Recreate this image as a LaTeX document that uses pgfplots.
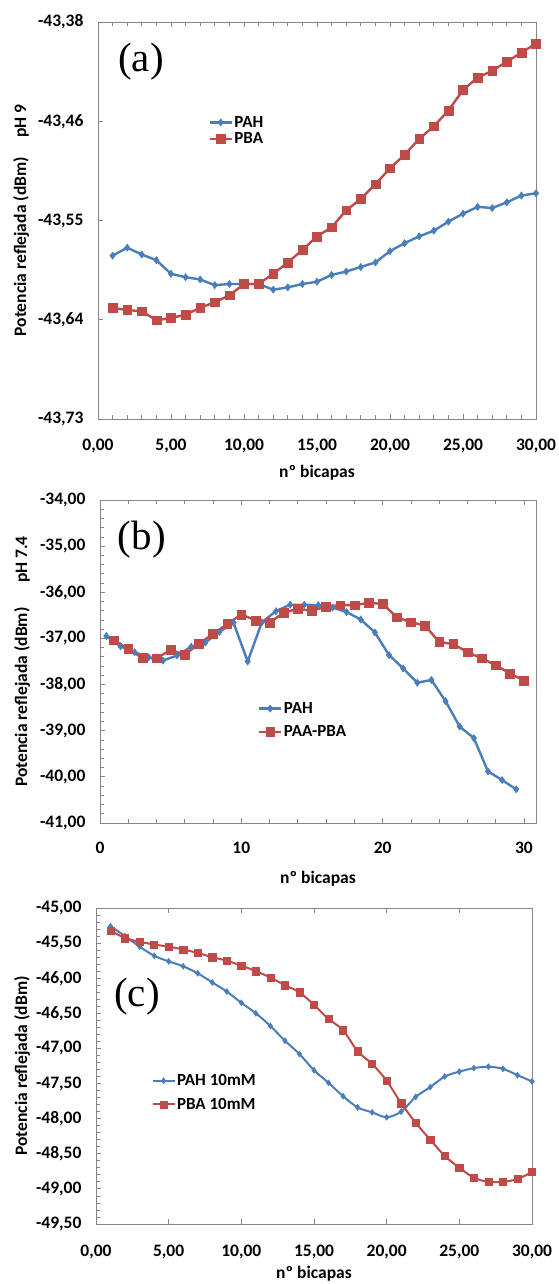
\documentclass[border=0pt]{standalone}
\usepackage{fontspec}
\setmainfont{Carlito}
\newfontfamily\seriffont{Liberation Serif}
\usepackage{pgfplots}
\pgfplotsset{compat=1.18}
\definecolor{pblue}{HTML}{4A7EBB}
\definecolor{pred}{HTML}{BE4B48}
\definecolor{axgray}{HTML}{868686}
\pgfplotsset{
  panel/.style={
    scale only axis,
    anchor=south west,
    axis line style={axgray, line width=0.8pt},
    tick style={axgray, line width=0.8pt},
    tick align=inside,
    xtick pos=both, ytick pos=left,
    major tick length=5pt, minor tick length=4pt,
    font=\bfseries\fontsize{17.5}{20}\selectfont,
    tick label style={font=\bfseries\fontsize{17.5}{20}\selectfont},
    clip=false,
    x tick label style={yshift=-17pt},
    y tick label style={xshift=-11pt},
    legend style={draw=none, fill=none, anchor=north west,
      font=\bfseries\fontsize{17}{20}\selectfont,
      nodes={inner sep=1.5pt}},
    legend cell align=left,
    legend image code/.code={\draw[mark repeat=2,mark phase=2,##1] plot coordinates {(0pt,0pt) (11pt,0pt) (22pt,0pt)};},
  },
  pah/.style={color=pblue, line width=2.4pt, mark=diamond*, mark size=3.6pt, mark options={solid, fill=pblue, line width=0.5pt}},
  pba/.style={color=pred, line width=2.4pt, mark=square*, mark size=4.4pt, mark options={solid, fill=pred, line width=0.5pt}},
}
\pgfplotstableread{
x y
1 -43.581
2 -43.574
3 -43.580
4 -43.585
5 -43.597
6 -43.600
7 -43.602
8 -43.607
9 -43.606
10 -43.606
11 -43.606
12 -43.611
13 -43.609
14 -43.606
15 -43.604
16 -43.598
17 -43.595
18 -43.591
19 -43.587
20 -43.577
21 -43.570
22 -43.564
23 -43.559
24 -43.551
25 -43.544
26 -43.538
27 -43.539
28 -43.534
29 -43.528
30 -43.526
}\pahA
\pgfplotstableread{
x y
1 -43.627
2 -43.629
3 -43.630
4 -43.638
5 -43.636
6 -43.633
7 -43.627
8 -43.622
9 -43.616
10 -43.606
11 -43.606
12 -43.597
13 -43.587
14 -43.576
15 -43.564
16 -43.556
17 -43.541
18 -43.531
19 -43.518
20 -43.504
21 -43.492
22 -43.478
23 -43.467
24 -43.453
25 -43.435
26 -43.424
27 -43.418
28 -43.410
29 -43.402
30 -43.394
}\pbaA
\pgfplotstableread{
x y
0.45 -36.95
1.45 -37.17
2.45 -37.30
3.45 -37.41
4.45 -37.48
5.45 -37.37
6.45 -37.18
7.45 -37.09
8.45 -36.86
9.45 -36.66
10.45 -37.50
11.45 -36.65
12.45 -36.41
13.45 -36.27
14.45 -36.27
15.45 -36.28
16.45 -36.33
17.45 -36.43
18.45 -36.59
19.45 -36.87
20.45 -37.36
21.45 -37.65
22.45 -37.96
23.45 -37.90
24.45 -38.36
25.45 -38.91
26.45 -39.16
27.45 -39.88
28.45 -40.07
29.45 -40.27
}\pahB
\pgfplotstableread{
x y
1 -37.04
2 -37.23
3 -37.42
4 -37.43
5 -37.25
6 -37.35
7 -37.12
8 -36.90
9 -36.69
10 -36.48
11 -36.61
12 -36.66
13 -36.44
14 -36.36
15 -36.40
16 -36.31
17 -36.28
18 -36.28
19 -36.23
20 -36.25
21 -36.54
22 -36.65
23 -36.72
24 -37.08
25 -37.12
26 -37.30
27 -37.43
28 -37.58
29 -37.76
30 -37.91
}\pbaB
\pgfplotstableread{
x y
1 -45.26
2 -45.40
3 -45.55
4 -45.68
5 -45.76
6 -45.83
7 -45.93
8 -46.06
9 -46.19
10 -46.35
11 -46.50
12 -46.68
13 -46.89
14 -47.08
15 -47.31
16 -47.49
17 -47.68
18 -47.84
19 -47.91
20 -47.98
21 -47.90
22 -47.69
23 -47.55
24 -47.40
25 -47.33
26 -47.28
27 -47.26
28 -47.29
29 -47.38
30 -47.47
}\pahC
\pgfplotstableread{
x y
1 -45.32
2 -45.43
3 -45.48
4 -45.52
5 -45.55
6 -45.59
7 -45.64
8 -45.70
9 -45.75
10 -45.82
11 -45.90
12 -45.99
13 -46.10
14 -46.20
15 -46.38
16 -46.58
17 -46.74
18 -47.04
19 -47.22
20 -47.46
21 -47.78
22 -48.06
23 -48.30
24 -48.53
25 -48.70
26 -48.84
27 -48.90
28 -48.90
29 -48.86
30 -48.76
}\pbaC
\begin{document}
\begin{tikzpicture}
\useasboundingbox (0pt,0pt) rectangle (558pt,1284pt);
% ---------------- (a)
\begin{axis}[panel, at={(98pt,865pt)}, width=438pt, height=397pt,
  xmin=0, xmax=30, ymin=-43.725, ymax=-43.375,
  xtick={0,5,10,15,20,25,30},
  xticklabels={{0,00},{5,00},{10,00},{15,00},{20,00},{25,00},{30,00}},
  minor x tick num=4,
  ytick={-43.725,-43.6375,-43.55,-43.4625,-43.375},
  yticklabels={{-43,73},{-43,64},{-43,55},{-43,46},{-43,38}},
  xlabel={nº bicapas},
  xlabel style={at={([yshift=-54pt]axis description cs:0.5,0)}, anchor=center},
  ylabel={Potencia reflejada (dBm)\hspace{1.1em}pH 9},
  ylabel style={at={([xshift=-77pt]axis description cs:0,0.5)}, anchor=center},
  legend style={at={(0.245,0.772)}, row sep=1pt},
]
\addplot[pah] table {\pahA};
\addlegendentry{PAH}
\addplot[pba] table {\pbaA};
\addlegendentry{PBA}
\node[font=\seriffont\mdseries\fontsize{41}{45}\selectfont] at (rel axis cs:0.098,0.899) {(a)};
\end{axis}
% ---------------- (b)
\begin{axis}[panel, at={(100pt,461pt)}, width=436pt, height=323pt,
  xmin=0, xmax=30.85, ymin=-41, ymax=-34,
  xtick={0,10,20,30},
  xticklabels={0,10,20,30},
  minor x tick num=4,
  ytick={-41,-40,-39,-38,-37,-36,-35,-34},
  yticklabels={{-41,00},{-40,00},{-39,00},{-38,00},{-37,00},{-36,00},{-35,00},{-34,00}},
  minor y tick num=4,
  x tick label style={yshift=2pt},
  xlabel={nº bicapas},
  xlabel style={at={([yshift=-56pt]axis description cs:0.5,0)}, anchor=center},
  ylabel={Potencia reflejada (dBm)\hspace{1.4em}pH 7.4},
  ylabel style={at={([xshift=-78pt]axis description cs:0,0.5)}, anchor=center},
  legend style={at={(0.355,0.385)}, row sep=8pt},
]
\addplot[pah] table {\pahB};
\addlegendentry{PAH}
\addplot[pba] table {\pbaB};
\addlegendentry{PAA-PBA}
\node[font=\seriffont\mdseries\fontsize{41}{45}\selectfont] at (rel axis cs:0.096,0.876) {(b)};
\end{axis}
% ---------------- (c)
\begin{axis}[panel, at={(96pt,60pt)}, width=436pt, height=316pt,
  xmin=0, xmax=30, ymin=-49.5, ymax=-45,
  xtick={0,5,10,15,20,25,30},
  xticklabels={{0,00},{5,00},{10,00},{15,00},{20,00},{25,00},{30,00}},
  ytick={-49.5,-49,-48.5,-48,-47.5,-47,-46.5,-46,-45.5,-45},
  yticklabels={{-49,50},{-49,00},{-48,50},{-48,00},{-47,50},{-47,00},{-46,50},{-46,00},{-45,50},{-45,00}},
  minor y tick num=4,
  xlabel={nº bicapas},
  xlabel style={at={([yshift=-50pt]axis description cs:0.5,0)}, anchor=center},
  ylabel={Potencia reflejada (dBm)},
  ylabel style={at={([xshift=-74pt]axis description cs:0,0.5)}, anchor=center},
  legend style={at={(0.12,0.485)}, row sep=8pt},
]
\addplot[pah, smooth, line width=2pt, mark size=3pt] table {\pahC};
\addlegendentry{PAH 10mM}
\addplot[pba, smooth, line width=2pt, mark size=3.6pt] table {\pbaC};
\addlegendentry{PBA 10mM}
\node[font=\seriffont\mdseries\fontsize{41}{45}\selectfont] at (rel axis cs:0.094,0.718) {(c)};
\end{axis}
\end{tikzpicture}
\end{document}
